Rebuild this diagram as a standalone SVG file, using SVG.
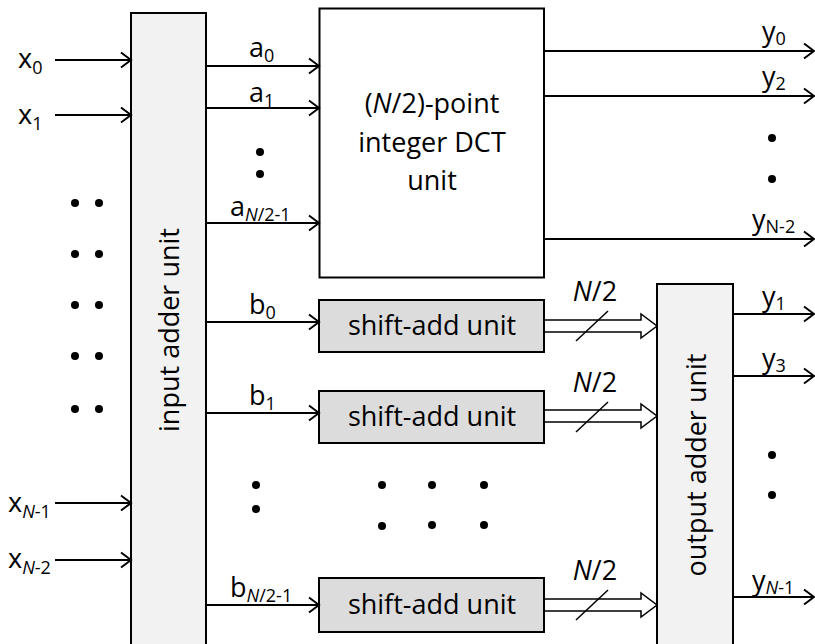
<svg xmlns="http://www.w3.org/2000/svg" width="815" height="644" viewBox="0 0 815 644">
<style>
text{font-family:"Open Sans","Liberation Sans",sans-serif;fill:#000}
.box{stroke:#000;stroke-width:2}
.bt{font-size:27px;text-anchor:middle}
.lb{font-size:27px}
.sb{font-size:18px}
.it{font-style:italic}
.ln{stroke:#000;stroke-width:2;fill:none;marker-end:url(#ah)}
.dbl{fill:#fff;stroke:#000;stroke-width:1.5}
.sl{stroke:#000;stroke-width:1.5}
.dot{fill:#000}
</style>
<defs>
<marker id="ah" markerUnits="userSpaceOnUse" markerWidth="14" markerHeight="18" refX="11" refY="8" orient="auto" overflow="visible">
<path d="M1,0.5 L11,8 L1,15.5" fill="none" stroke="#000" stroke-width="2"/>
</marker>
</defs>
<rect width="815" height="644" fill="#fff"/>

<g id="input-adder">
<rect class="box" x="131" y="13" width="75" height="650" fill="#f2f2f2"/>
<text class="bt" transform="translate(179,330) rotate(-90)">input adder unit</text>
</g>
<g id="dct">
<rect class="box" x="319.5" y="8.5" width="224.5" height="269" fill="#fff"/>
<text class="bt" x="432" y="113">(<tspan class="it">N</tspan>/2)-point</text>
<text class="bt" x="432" y="152">integer DCT</text>
<text class="bt" x="432" y="190">unit</text>
</g>
<g id="shift-add-0">
<rect class="box" x="319" y="300" width="225" height="52" fill="#dcdcdc"/>
<text class="bt" x="432" y="335">shift-add unit</text>
</g>
<g id="shift-add-1">
<rect class="box" x="319" y="391" width="225" height="52" fill="#dcdcdc"/>
<text class="bt" x="432" y="426">shift-add unit</text>
</g>
<g id="shift-add-2">
<rect class="box" x="319" y="578" width="225" height="54" fill="#dcdcdc"/>
<text class="bt" x="432" y="614">shift-add unit</text>
</g>
<g id="output-adder">
<rect class="box" x="657" y="284" width="76" height="380" fill="#f2f2f2"/>
<text class="bt" transform="translate(706,465) rotate(-90)">output adder unit</text>
</g>

<g id="connectors">
<line class="ln" x1="55" y1="60" x2="131" y2="60"/>
<line class="ln" x1="55" y1="115" x2="131" y2="115"/>
<line class="ln" x1="55" y1="503" x2="131" y2="503"/>
<line class="ln" x1="55" y1="560" x2="131" y2="560"/>
<line class="ln" x1="206" y1="66" x2="319" y2="66"/>
<line class="ln" x1="206" y1="108" x2="319" y2="108"/>
<line class="ln" x1="206" y1="223" x2="319" y2="223"/>
<line class="ln" x1="206" y1="322" x2="319" y2="322"/>
<line class="ln" x1="206" y1="413" x2="319" y2="413"/>
<line class="ln" x1="206" y1="605" x2="319" y2="605"/>
<line class="ln" x1="544" y1="51" x2="814" y2="51"/>
<line class="ln" x1="544" y1="96" x2="814" y2="96"/>
<line class="ln" x1="544" y1="239" x2="814" y2="239"/>
<line class="ln" x1="733" y1="314" x2="814" y2="314"/>
<line class="ln" x1="733" y1="376" x2="814" y2="376"/>
<line class="ln" x1="733" y1="597" x2="814" y2="597"/>
<path class="dbl" d="M545,320 L641,320 L641,314 L657,326 L641,338 L641,332 L545,332"/>
<path class="dbl" d="M545,410 L641,410 L641,404 L657,416 L641,428 L641,422 L545,422"/>
<path class="dbl" d="M545,599 L641,599 L641,593 L657,605 L641,617 L641,611 L545,611"/>
<line class="sl" x1="576" y1="341" x2="608" y2="311"/>
<line class="sl" x1="576" y1="432" x2="608" y2="402"/>
<line class="sl" x1="576" y1="620" x2="608" y2="590"/>
</g>

<g id="labels">
<text class="lb" x="18" y="68">x<tspan class="sb" dy="6">0</tspan></text>
<text class="lb" x="18" y="124">x<tspan class="sb" dy="6">1</tspan></text>
<text class="lb" x="8" y="512">x<tspan class="sb" dy="6"><tspan class="it">N</tspan>-1</tspan></text>
<text class="lb" x="8" y="568">x<tspan class="sb" dy="6"><tspan class="it">N</tspan>-2</tspan></text>
<text class="lb" x="249" y="57">a<tspan class="sb" dy="5">0</tspan></text>
<text class="lb" x="249" y="102">a<tspan class="sb" dy="5">1</tspan></text>
<text class="lb" x="230" y="216">a<tspan class="sb" dy="5"><tspan class="it">N</tspan>/2-1</tspan></text>
<text class="lb" x="249" y="314">b<tspan class="sb" dy="5">0</tspan></text>
<text class="lb" x="249" y="405">b<tspan class="sb" dy="5">1</tspan></text>
<text class="lb" x="230" y="597">b<tspan class="sb" dy="5"><tspan class="it">N</tspan>/2-1</tspan></text>
<text class="lb" x="762" y="41">y<tspan class="sb" dy="4">0</tspan></text>
<text class="lb" x="762" y="86">y<tspan class="sb" dy="4">2</tspan></text>
<text class="lb" x="752" y="229">y<tspan class="sb" dy="4">N-2</tspan></text>
<text class="lb" x="762" y="306">y<tspan class="sb" dy="4">1</tspan></text>
<text class="lb" x="762" y="368">y<tspan class="sb" dy="4">3</tspan></text>
<text class="lb" x="752" y="590">y<tspan class="sb" dy="4"><tspan class="it">N</tspan>-1</tspan></text>
<text class="lb" x="595" y="301" text-anchor="middle"><tspan class="it">N</tspan>/2</text>
<text class="lb" x="595" y="392" text-anchor="middle"><tspan class="it">N</tspan>/2</text>
<text class="lb" x="595" y="580" text-anchor="middle"><tspan class="it">N</tspan>/2</text>
</g>

<g id="dots">
<circle class="dot" cx="260" cy="152" r="4"/><circle class="dot" cx="260" cy="174" r="4"/>
<circle class="dot" cx="75" cy="203" r="4"/><circle class="dot" cx="99" cy="203" r="4"/>
<circle class="dot" cx="75" cy="254" r="4"/><circle class="dot" cx="99" cy="254" r="4"/>
<circle class="dot" cx="75" cy="305" r="4"/><circle class="dot" cx="99" cy="305" r="4"/>
<circle class="dot" cx="75" cy="356" r="4"/><circle class="dot" cx="99" cy="356" r="4"/>
<circle class="dot" cx="75" cy="409" r="4"/><circle class="dot" cx="99" cy="409" r="4"/>
<circle class="dot" cx="772" cy="138" r="4"/><circle class="dot" cx="772" cy="179" r="4"/>
<circle class="dot" cx="772" cy="455" r="4"/><circle class="dot" cx="772" cy="495" r="4"/>
<circle class="dot" cx="256" cy="485" r="4"/><circle class="dot" cx="256" cy="509" r="4"/>
<circle class="dot" cx="382" cy="485" r="4"/><circle class="dot" cx="382" cy="526" r="4"/>
<circle class="dot" cx="432" cy="485" r="4"/><circle class="dot" cx="432" cy="525" r="4"/>
<circle class="dot" cx="484" cy="485" r="4"/><circle class="dot" cx="484" cy="525" r="4"/>
</g>
</svg>
